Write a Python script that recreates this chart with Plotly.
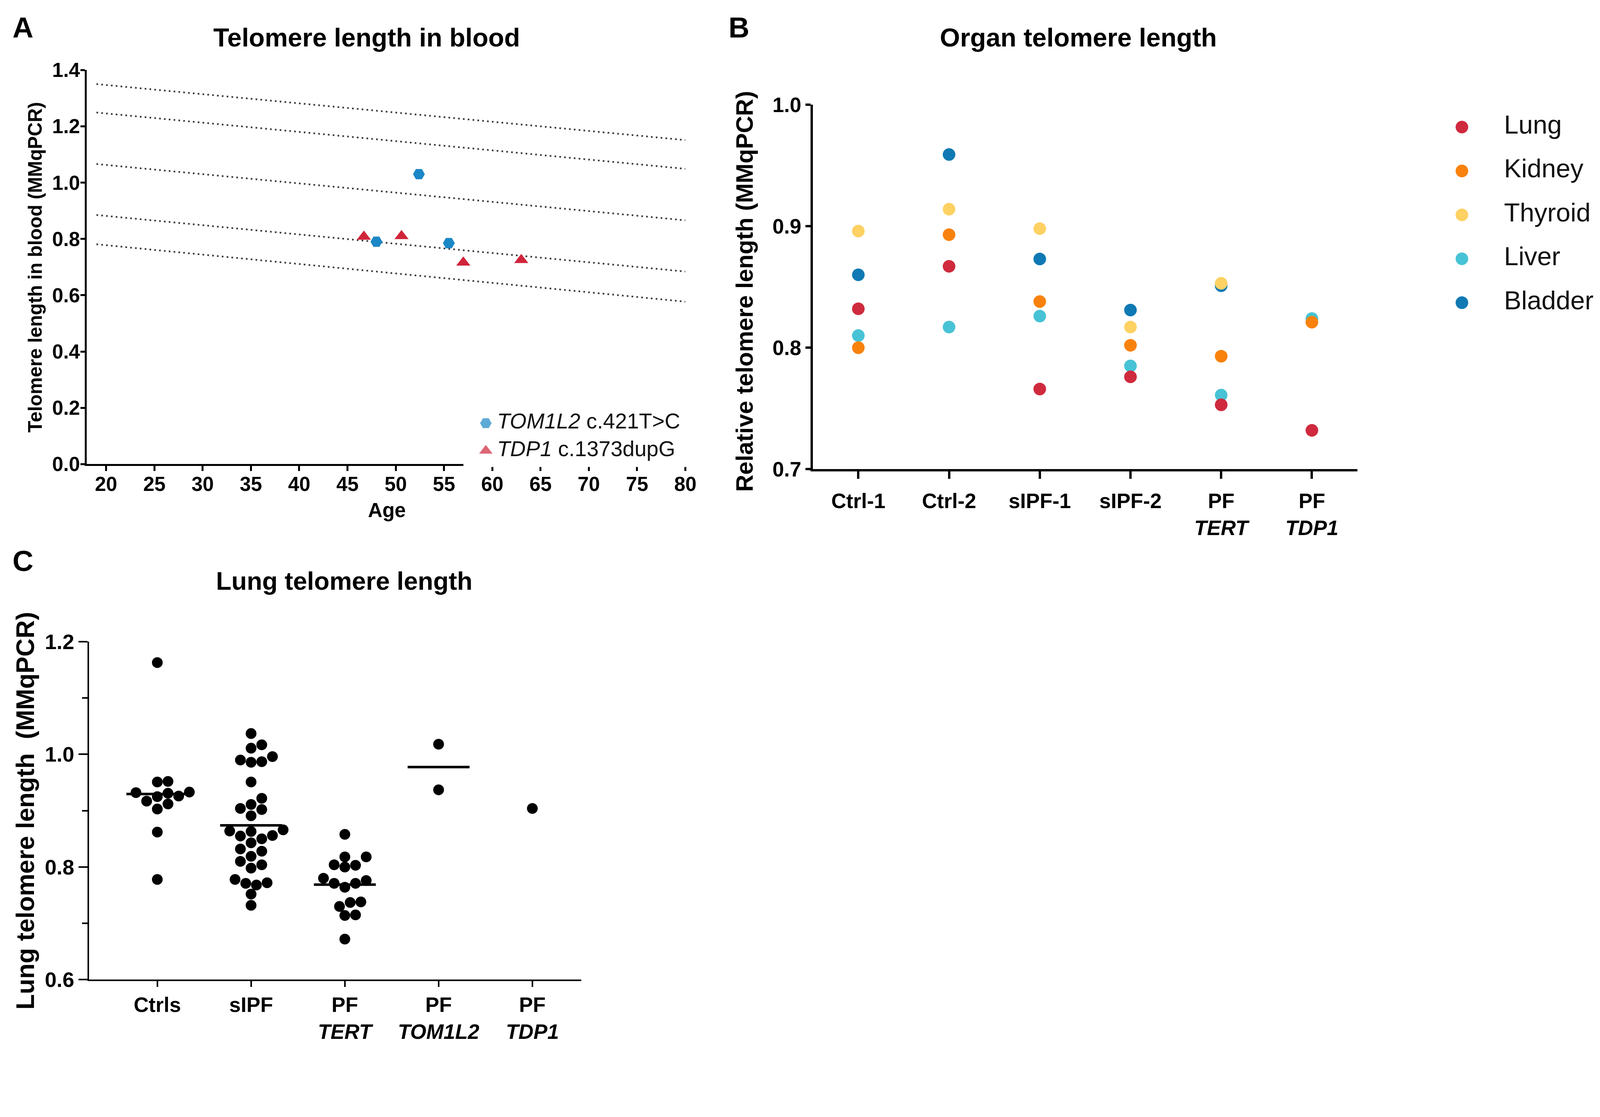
import statistics
import plotly.graph_objects as go

# ---------------- data ----------------
# A: telomere length in blood vs age
tom1l2_age = [52.4, 48.0, 55.5]
tom1l2_tl = [1.030, 0.790, 0.785]
tdp1_age = [46.7, 50.6, 57.0, 63.0]
tdp1_tl = [0.808, 0.810, 0.716, 0.725]
ref_age = [19, 80]
ref_start = [1.350, 1.249, 1.066, 0.885, 0.781]
ref_end = [1.151, 1.049, 0.866, 0.684, 0.577]
legend_a = ["<i>TOM1L2</i> c.421T>C", "<i>TDP1</i> c.1373dupG"]

# B: organ telomere length
samples_b = ["Ctrl-1", "Ctrl-2", "sIPF-1", "sIPF-2", "PF<br><i>TERT</i>", "PF<br><i>TDP1</i>"]
organs = ["Lung", "Kidney", "Thyroid", "Liver", "Bladder"]
lung = [0.832, 0.867, 0.766, 0.776, 0.753, 0.732]
kidney = [0.800, 0.893, 0.838, 0.802, 0.793, 0.821]
thyroid = [0.896, 0.914, 0.898, 0.817, 0.853, None]
liver = [0.810, 0.817, 0.826, 0.785, 0.761, 0.824]
bladder = [0.860, 0.959, 0.873, 0.831, 0.851, None]

# C: lung telomere length
groups_c = ["Ctrls", "sIPF", "PF<br><i>TERT</i>", "PF<br><i>TOM1L2</i>", "PF<br><i>TDP1</i>"]
ctrls = [1.163, 0.952, 0.951, 0.932, 0.933, 0.931, 0.926, 0.925, 0.917, 0.912, 0.903, 0.862, 0.778]
sipf = [1.037, 1.017, 1.011, 0.996, 0.990, 0.987, 0.986, 0.951, 0.922, 0.911, 0.904, 0.902,
        0.891, 0.866, 0.864, 0.863, 0.856, 0.855, 0.850, 0.843, 0.832, 0.828, 0.819, 0.810,
        0.804, 0.798, 0.778, 0.772, 0.771, 0.768, 0.752, 0.732]
pf_tert = [0.858, 0.818, 0.818, 0.803, 0.804, 0.800, 0.780, 0.776, 0.771, 0.764, 0.771,
           0.738, 0.737, 0.730, 0.714, 0.715, 0.672]
pf_tom1l2 = [1.018, 0.937]
pf_tdp1 = [0.904]

# ---------------- style ----------------
# the page is drawn a little smaller than the window so that it is not cropped
W, H = 4110, 2716
S = W / 4328  # scale for every pixel size below
ARIAL = "Liberation Sans, Arial, sans-serif"
organ_colors = {"Lung": "#cf2a3e", "Kidney": "#f9820c", "Thyroid": "#fdd162",
                "Liver": "#47c3d5", "Bladder": "#0f79b4"}
draw_order = ["Bladder", "Liver", "Lung", "Kidney", "Thyroid"]
organ_vals = {"Lung": lung, "Kidney": kidney, "Thyroid": thyroid, "Liver": liver, "Bladder": bladder}


def fx(v):
    # horizontal position, fraction of the reference picture -> paper
    return (v * 1568 - 4) / 1561


def fy(v):
    # vertical position, fraction of the reference picture -> paper (page sits a bit lower)
    return 1 - ((1 - v) * 1036 - 13) / 1016


def clamp(v):
    return min(1.0, max(0.0, v))


def dom_x(a, b):
    return [clamp(fx(a)), clamp(fx(b))]


def dom_y(a, b):
    return [clamp(fy(a)), clamp(fy(b))]


def px(v):
    return v * S


dom_a_x, dom_a_y = dom_x(0.0548, 0.4286), dom_y(0.5627, 0.9353)
dom_b_x, dom_b_y = dom_x(0.5083, 0.8482), dom_y(0.5579, 0.9025)
dom_c_x, dom_c_y = dom_x(0.0561, 0.3635), dom_y(0.0753, 0.3948)
range_c_x, range_c_y = [-0.73, 4.52], [0.6, 1.2]
dot_c = px(29)

fig = go.Figure()

# ---------- panel A ----------
for s, e in zip(ref_start, ref_end):
    fig.add_trace(go.Scatter(x=ref_age, y=[s, e], mode="lines", showlegend=False,
                             line=dict(color="#3a3a3a", width=px(4.5),
                                       dash=f"{px(4.5):.1f}px,{px(8.5):.1f}px"),
                             xaxis="x", yaxis="y", hoverinfo="skip"))
fig.add_trace(go.Scatter(x=tom1l2_age, y=tom1l2_tl, mode="markers", showlegend=False,
                         marker=dict(symbol="hexagon2", size=px(32), color="#1b87c6"),
                         xaxis="x", yaxis="y"))
fig.add_trace(go.Scatter(x=tdp1_age, y=tdp1_tl, mode="markers", showlegend=False,
                         marker=dict(symbol="triangle-up", size=px(33), color="#d0243a"),
                         xaxis="x", yaxis="y"))

# legend of panel A drawn on its own hidden axes so the symbols keep their size
fig.add_trace(go.Scatter(x=[0.10, 0.10], y=[0, 1], mode="markers", showlegend=False,
                         marker=dict(symbol=["hexagon2", "triangle-up"], size=[px(32), px(33)],
                                     color=["#1b87c6", "#d0243a"]),
                         xaxis="x4", yaxis="y4", hoverinfo="skip"))
fig.add_trace(go.Scatter(x=[0.15, 0.15], y=[0, 1], mode="text", text=legend_a,
                         textposition="middle right", showlegend=False,
                         textfont=dict(family=ARIAL, size=px(58), color="#111111"),
                         xaxis="x4", yaxis="y4", hoverinfo="skip"))

# ---------- panel B ----------
xb = list(range(len(samples_b)))
for org in draw_order:
    fig.add_trace(go.Scatter(x=xb, y=organ_vals[org], mode="markers", name=org,
                             showlegend=False,
                             marker=dict(size=px(34), color=organ_colors[org]),
                             xaxis="x2", yaxis="y2"))
idx = list(range(len(organs)))
fig.add_trace(go.Scatter(x=[0.18] * len(organs), y=idx, mode="markers", showlegend=False,
                         marker=dict(size=px(34), color=[organ_colors[o] for o in organs]),
                         xaxis="x5", yaxis="y5", hoverinfo="skip"))
fig.add_trace(go.Scatter(x=[0.435] * len(organs), y=idx, mode="text", text=organs,
                         textposition="middle right", showlegend=False,
                         textfont=dict(family=ARIAL, size=px(70), color="#111111"),
                         xaxis="x5", yaxis="y5", hoverinfo="skip"))


# ---------- panel C ----------
def swarm(vals, dx, dy):
    """GraphPad-like scatter: offset points sideways so the dots do not overlap."""
    placed, offs = [], [0.0] * len(vals)
    cands = [0.0] + [s * j * 0.5 for j in range(1, 30) for s in (1, -1)]
    for i in sorted(range(len(vals)), key=lambda k: vals[k]):
        y = vals[i]
        for c in cands:
            if all((c - pc) ** 2 + ((y - py) / dy) ** 2 >= 0.92 for pc, py in placed):
                break
        placed.append((c, y))
        offs[i] = c * dx
    return offs


plot_w = (dom_c_x[1] - dom_c_x[0]) * W
plot_h = (dom_c_y[1] - dom_c_y[0]) * H
dx = dot_c / (plot_w / (range_c_x[1] - range_c_x[0]))
dy = dot_c / (plot_h / (range_c_y[1] - range_c_y[0]))

for gi, vals in enumerate([ctrls, sipf, pf_tert, pf_tom1l2, pf_tdp1]):
    offs = swarm(vals, dx, dy)
    fig.add_trace(go.Scatter(x=[gi + o for o in offs], y=vals, mode="markers", showlegend=False,
                             marker=dict(size=dot_c, color="black"),
                             xaxis="x3", yaxis="y3"))
    if len(vals) > 1:
        m = statistics.mean(vals)
        fig.add_trace(go.Scatter(x=[gi - 0.33, gi + 0.33], y=[m, m], mode="lines",
                                 showlegend=False, line=dict(color="black", width=px(7)),
                                 xaxis="x3", yaxis="y3", hoverinfo="skip"))

# ---------------- layout ----------------
ax_common = dict(showline=True, linecolor="black", showgrid=False, zeroline=False,
                 ticks="outside", tickcolor="black")
bold = dict(family=ARIAL, color="black", weight="bold")

fig.update_layout(
    width=W, height=H, margin=dict(l=0, r=0, t=0, b=0),
    paper_bgcolor="white", plot_bgcolor="white", showlegend=False,
    xaxis=dict(domain=dom_a_x, anchor="y", range=[18, 80], tickvals=list(range(20, 81, 5)),
               linewidth=px(5), tickwidth=px(5), ticklen=px(13),
               ticklabelstandoff=int(round(px(-11))),
               tickfont=dict(size=px(54), **bold), **ax_common),
    yaxis=dict(domain=dom_a_y, anchor="x", range=[0, 1.4], dtick=0.2, tickformat=".1f",
               linewidth=px(5), tickwidth=px(5), ticklen=px(12),
               ticklabelstandoff=int(round(px(-10))),
               tickfont=dict(size=px(54), **bold), **ax_common),
    xaxis2=dict(domain=dom_b_x, anchor="y2", range=[-0.5, 5.5], tickvals=xb, ticktext=samples_b,
                linewidth=px(6), tickwidth=px(6), ticklen=px(20),
                ticklabelstandoff=int(round(px(12))),
                tickfont=dict(size=px(56), **bold), **ax_common),
    yaxis2=dict(domain=dom_b_y, anchor="x2", range=[0.7, 1.0], dtick=0.1, tickformat=".1f",
                linewidth=px(6), tickwidth=px(6), ticklen=px(14),
                tickfont=dict(size=px(56), **bold), **ax_common),
    xaxis3=dict(domain=dom_c_x, anchor="y3", range=range_c_x, tickvals=list(range(len(groups_c))),
                ticktext=groups_c, linewidth=px(4), tickwidth=px(4), ticklen=px(16),
                tickfont=dict(size=px(56), **bold), **ax_common),
    yaxis3=dict(domain=dom_c_y, anchor="x3", range=range_c_y, dtick=0.2, tickformat=".1f",
                linewidth=px(4), tickwidth=px(4), ticklen=px(24),
                minor=dict(dtick=0.1, ticks="outside", ticklen=px(14), tickwidth=px(4),
                           tickcolor="black"),
                tickfont=dict(size=px(57), **bold), **ax_common),
    xaxis4=dict(domain=dom_x(0.29, 0.43), anchor="y4", range=[0, 1], visible=False),
    yaxis4=dict(domain=dom_y(0.56, 0.62), anchor="x4", range=[1.587, -0.713], visible=False),
    xaxis5=dict(domain=dom_x(0.895, 1.0), anchor="y5", range=[0, 1], visible=False),
    yaxis5=dict(domain=dom_y(0.69, 0.91), anchor="x5", range=[4.61, -0.69], visible=False),
)

ann = []


def label(text, x, y, size, angle=0, xanchor="center"):
    ann.append(dict(text=text, x=fx(x), y=fy(y), xref="paper", yref="paper", showarrow=False,
                    textangle=angle, xanchor=xanchor, yanchor="middle",
                    font=dict(size=px(size), **bold)))


label("A", 0.008, 0.9755, 78, xanchor="left")
label("B", 0.455, 0.9755, 78, xanchor="left")
label("C", 0.008, 0.471, 78, xanchor="left")
label("Telomere length in blood", 0.2296, 0.966, 70)
label("Organ telomere length", 0.674, 0.966, 70)
label("Lung telomere length", 0.2156, 0.452, 68)
label("Telomere length in blood (MMqPCR)", 0.0225, 0.749, 52, angle=-90)
label("Age", 0.2423, 0.519, 54)
label("Relative telomere length (MMqPCR)", 0.4656, 0.726, 64, angle=-90)
label("Lung telomere length  (MMqPCR)", 0.0165, 0.235, 68, angle=-90)
fig.update_layout(annotations=ann)

fig.write_html("out.html")
